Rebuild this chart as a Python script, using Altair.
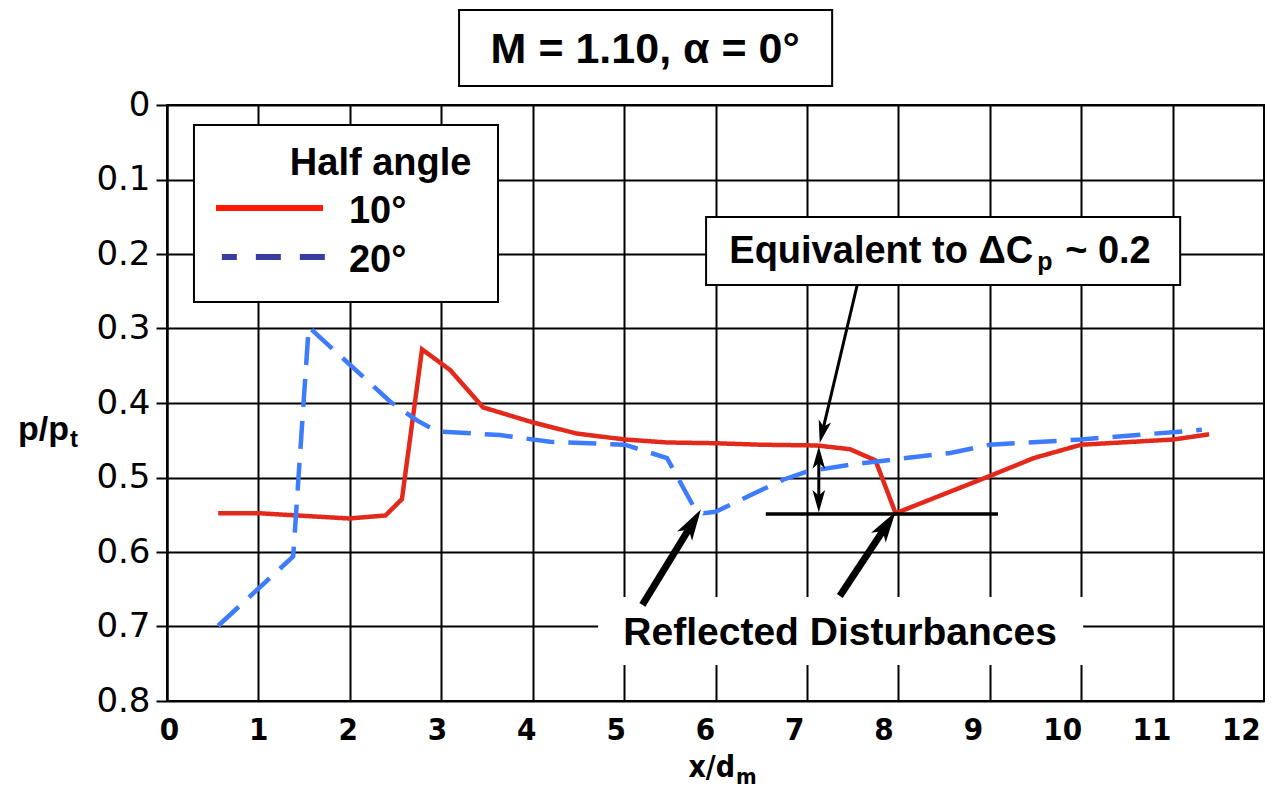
import math
import altair as alt
import pandas as pd

# ---------------- data ----------------
series_names = ["10°", "20°"]
series_colors = ["#e3291b", "#3d7bff"]

x10 = [0.56, 1.01, 1.99, 2.39, 2.57, 2.79, 3.10, 3.46, 4.00, 4.48, 5.01, 5.47,
       6.00, 6.49, 7.11, 7.47, 7.75, 7.97, 9.00, 9.48, 10.00, 11.01, 11.40]
y10 = [0.548, 0.548, 0.555, 0.551, 0.529, 0.328, 0.356, 0.406, 0.426, 0.441, 0.449, 0.453,
       0.454, 0.456, 0.457, 0.462, 0.477, 0.548, 0.498, 0.474, 0.456, 0.449, 0.442]

x20 = [0.56, 1.38, 1.55, 2.44, 2.73, 2.95, 3.64, 4.19, 5.01, 5.47, 5.76, 5.87,
       6.00, 6.74, 7.00, 7.47, 8.00, 8.57, 9.00, 10.00, 11.32]
y20 = [0.699, 0.606, 0.298, 0.398, 0.423, 0.438, 0.443, 0.452, 0.456, 0.474, 0.539, 0.548,
       0.546, 0.503, 0.492, 0.483, 0.475, 0.467, 0.456, 0.449, 0.436]

x_ticks = list(range(0, 13))
y_ticks = [round(i * 0.1, 1) for i in range(0, 9)]

# ---------------- layout ----------------
W, H = 1097, 596
PXX = W / 12.0      # px per x unit
PXY = H / 0.8       # px per y unit

rows = []
for i, (a, b) in enumerate(zip(x10, y10)):
    rows.append({"x": a, "y": b, "s": series_names[0], "i": i})
for i, (a, b) in enumerate(zip(x20, y20)):
    rows.append({"x": a, "y": b, "s": series_names[1], "i": i})
df = pd.DataFrame(rows)

xs = alt.Scale(domain=[0, 12], nice=False, zero=False)
ys = alt.Scale(domain=[0, 0.8], reverse=True, nice=False, zero=False)

COND = "DejaVu Sans Condensed, Liberation Sans"

xaxis = alt.Axis(values=x_ticks, title=None, grid=True, gridColor="black", gridWidth=2,
                 gridOpacity=1, domain=False, ticks=False, labelFlush=False,
                 labelFont=COND, labelFontWeight="bold",
                 labelFontSize=31, labelColor="black", labelPadding=14,
                 labelOffset=alt.ExprRef(expr="2 - 2.1 * datum.value"))
yaxis = alt.Axis(values=y_ticks, title=None, grid=True, gridColor="black", gridWidth=2,
                 gridOpacity=1, domain=True, domainColor="black", domainWidth=2,
                 ticks=True, tickSize=11, tickWidth=2, tickColor="black", labelFlush=False,
                 labelExpr="datum.value == 0 ? '0' : format(datum.value, '.1f')",
                 labelFont="DejaVu Sans", labelFontSize=34, labelColor="black",
                 labelPadding=6)


def X(field="x"):
    return alt.X(f"{field}:Q", scale=xs, axis=xaxis)


def Y(field="y"):
    return alt.Y(f"{field}:Q", scale=ys, axis=yaxis)


lines = alt.Chart(df).mark_line(strokeWidth=4.5, strokeCap="butt").encode(
    x=X(), y=Y(),
    color=alt.Color("s:N", scale=alt.Scale(domain=series_names, range=series_colors), legend=None),
    strokeDash=alt.StrokeDash("s:N", scale=alt.Scale(domain=series_names, range=[[1, 0], [28, 14]]),
                              legend=None),
    order="i:Q",
)

# ---------------- boxes ----------------
boxes_df = pd.DataFrame([
    {"x": 0.295, "x2": 3.621, "y": 0.0268, "y2": 0.2644},   # legend
    {"x": 5.897, "x2": 11.083, "y": 0.1503, "y2": 0.2416},  # equivalent
    {"x": 3.195, "x2": 7.276, "y": -0.1275, "y2": -0.0255}, # title
])
boxes = alt.Chart(boxes_df).mark_rect(fill="white", stroke="black", strokeWidth=2).encode(
    x=X(), x2="x2:Q", y=Y(), y2="y2:Q")

white_df = pd.DataFrame([{"x": 4.716, "x2": 10.022, "y": 0.6604, "y2": 0.7517}])
whitebox = alt.Chart(white_df).mark_rect(fill="white", strokeWidth=0).encode(
    x=X(), x2="x2:Q", y=Y(), y2="y2:Q")

# ---------------- legend lines ----------------
leg_red = alt.Chart(pd.DataFrame([{"x": 0.536, "x2": 1.707, "y": 0.1383}])).mark_rule(
    color="#ff1a00", strokeWidth=6, strokeCap="butt").encode(x=X(), x2="x2:Q", y=Y())
leg_blue = alt.Chart(pd.DataFrame([{"x": 0.60, "x2": 1.75, "y": 0.2040}])).mark_rule(
    color="#3a3d9e", strokeWidth=6, strokeCap="butt", strokeDash=[25, 19], strokeDashOffset=10
).encode(x=X(), x2="x2:Q", y=Y())

# ---------------- reference line and arrows ----------------
hline = alt.Chart(pd.DataFrame([{"x": 6.55, "x2": 9.09, "y": 0.549}])).mark_rule(
    color="black", strokeWidth=3.5, strokeCap="butt").encode(x=X(), x2="x2:Q", y=Y())

# (tail x, tail y, tip x, tip y, shaft width, head size)
arrows = [
    (7.55, 0.2416, 7.14, 0.4537, 3, 420),
    (7.13, 0.500, 7.13, 0.458, 3, 420),
    (7.13, 0.500, 7.13, 0.547, 3, 420),
    (5.20, 0.671, 5.84, 0.543, 7, 800),
    (7.36, 0.659, 7.97, 0.546, 7, 800),
]
shaft_rows, head_rows = [], []
for (x0, y0, x1, y1, sw, hs) in arrows:
    dxp = (x1 - x0) * PXX
    dyp = (y1 - y0) * PXY
    L = math.hypot(dxp, dyp)
    ang = math.degrees(math.atan2(dxp, -dyp)) % 360
    back = math.sqrt(hs) / 2 * 1.2
    ex = x1 - dxp / L * back / PXX
    ey = y1 - dyp / L * back / PXY
    shaft_rows.append({"x": x0, "y": y0, "x2": ex, "y2": ey, "w": sw})
    head_rows.append({"x": x1, "y": y1, "a": ang, "sz": hs})

shafts = alt.Chart(pd.DataFrame(shaft_rows)).mark_rule(color="black", strokeCap="butt").encode(
    x=X(), y=Y(), x2="x2:Q", y2="y2:Q", strokeWidth=alt.StrokeWidth("w:Q", scale=None))

head_path = "M0,0 L-0.62,2.2 L0,1.65 L0.62,2.2 Z"
heads = alt.Chart(pd.DataFrame(head_rows)).mark_point(
    shape=head_path, filled=True, color="black", opacity=1, strokeWidth=0).encode(
    x=X(), y=Y(), angle=alt.Angle("a:Q", scale=None), size=alt.Size("sz:Q", scale=None))


# ---------------- texts ----------------
def txt(text, x, y, size, align="left", font="Liberation Sans", weight="bold"):
    return alt.Chart(pd.DataFrame([{"x": x, "y": y, "t": text}])).mark_text(
        align=align, baseline="alphabetic", font=font, fontSize=size,
        fontWeight=weight, color="black").encode(x=X(), y=Y(), text="t:N")


texts = [
    txt("M = 1.10, α = 0°", 5.23, -0.0565, 43, "center"),
    txt("Half angle", 3.33, 0.094, 38, "right"),
    txt("10°", 1.99, 0.1584, 38, "left"),
    txt("20°", 1.99, 0.2242, 38, "left"),
    txt("Equivalent to ΔC", 9.475, 0.2121, 38, "right"),
    txt("p", 9.52, 0.2215, 25, "left"),
    txt("~ 0.2", 9.825, 0.2121, 38, "left"),
    txt("Reflected Disturbances", 7.363, 0.7248, 39, "center"),
    txt("p/p", -1.63, 0.4497, 34, "left"),
    txt("t", -1.06, 0.4590, 24, "left"),
    txt("x/d", 6.214, 0.902, 30, "right", font=COND),
    txt("m", 6.225, 0.911, 22, "left", font=COND),
]

chart = alt.layer(lines, whitebox, boxes, leg_red, leg_blue, hline, shafts, heads, *texts).properties(
    width=W, height=H,
    autosize=alt.AutoSizeParams(type="none"),
    padding={"left": 159, "top": 97, "right": 1, "bottom": 90},
    background="white",
).configure_view(stroke="black", strokeWidth=2)

chart.save("out.html", embed_options={"renderer": "svg", "actions": False})
